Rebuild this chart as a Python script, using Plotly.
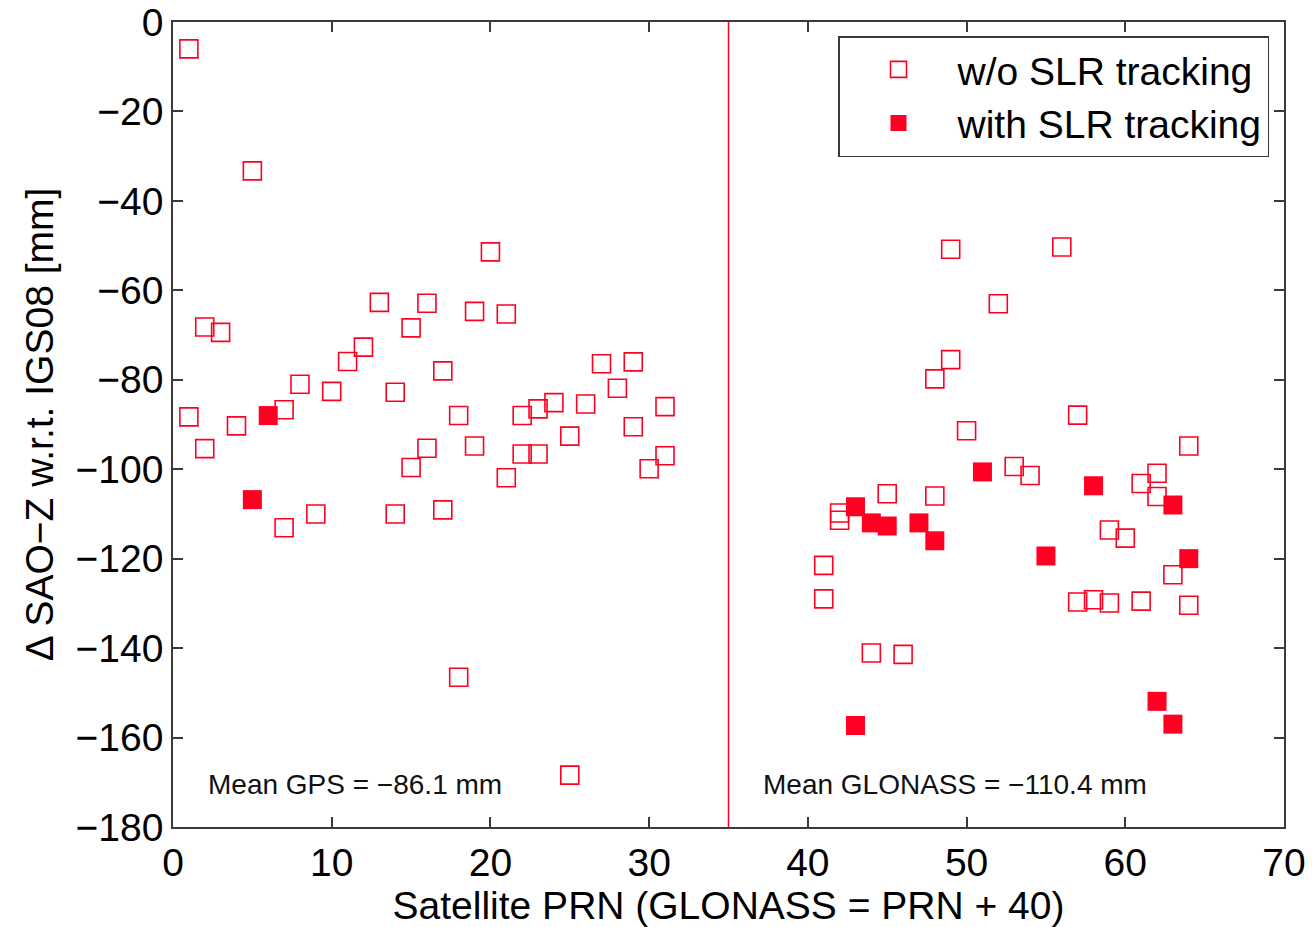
import plotly.graph_objects as go

# GPS satellites (x = PRN)
gps_open_prn = [1, 1, 2, 2, 3, 4, 5, 7, 7, 8, 9, 10, 11, 12, 13, 14, 14, 15, 15,
                16, 16, 17, 17, 18, 18, 19, 19, 20, 21, 21, 22, 22, 23, 23, 24,
                25, 25, 26, 27, 28, 29, 29, 30, 31, 31]
gps_open_dz = [-6.0, -88.3, -68.2, -95.4, -69.4, -90.3, -33.3, -86.7, -113.1,
               -81.0, -110.0, -82.6, -75.9, -72.7, -62.7, -82.8, -110.0, -68.4,
               -99.6, -62.9, -95.3, -78.0, -109.1, -88.0, -146.5, -64.7, -94.8,
               -51.4, -65.3, -101.9, -88.0, -96.6, -86.5, -96.6, -85.1, -92.6,
               -168.4, -85.4, -76.4, -81.9, -76.0, -90.5, -99.9, -86.0, -97.0]
gps_slr_prn = [5, 6]
gps_slr_dz = [-106.8, -88.0]

# GLONASS satellites (plotted at PRN + 40)
glo_offset = 40
glo_open_prn = [1, 1, 2, 2, 4, 5, 6, 8, 8, 9, 9, 10, 12, 13, 14, 16, 17, 17, 18,
                19, 19, 20, 21, 21, 22, 22, 23, 24, 24]
glo_open_dz = [-121.5, -129.0, -109.8, -111.4, -141.1, -105.5, -141.4, -79.8,
               -106.0, -50.8, -75.5, -91.4, -63.0, -99.4, -101.4, -50.3, -87.9,
               -129.7, -129.2, -113.6, -129.9, -115.4, -103.2, -129.5, -100.9,
               -106.1, -123.6, -94.8, -130.4]
glo_slr_prn = [3, 3, 4, 5, 7, 8, 11, 15, 18, 22, 23, 23, 24]
glo_slr_dz = [-108.4, -157.3, -112.0, -112.7, -112.0, -116.0, -100.6, -119.4,
              -103.7, -151.9, -108.0, -157.0, -120.0]

mean_gps = -86.1
mean_glo = -110.4
separator_x = 35

x_ticks = [0, 10, 20, 30, 40, 50, 60, 70]
y_ticks = [0, -20, -40, -60, -80, -100, -120, -140, -160, -180]

RED = "#ff0022"
AXIS = "#3a3a3a"
FONT = "Liberation Sans, Arial, sans-serif"
BIG = 39

open_x = gps_open_prn + [p + glo_offset for p in glo_open_prn]
open_y = gps_open_dz + glo_open_dz
slr_x = gps_slr_prn + [p + glo_offset for p in glo_slr_prn]
slr_y = gps_slr_dz + glo_slr_dz

fig = go.Figure()
fig.add_trace(go.Scatter(
    x=open_x, y=open_y, mode="markers", name="w/o SLR tracking",
    marker=dict(symbol="square-open", size=18, color=RED, line=dict(width=1.6, color=RED)),
))
fig.add_trace(go.Scatter(
    x=slr_x, y=slr_y, mode="markers", name="with SLR tracking",
    marker=dict(symbol="square", size=19, color=RED, line=dict(width=0)),
))

fig.add_shape(type="line", x0=separator_x, x1=separator_x, y0=0, y1=1,
              xref="x", yref="paper", line=dict(color=RED, width=1.5))

fig.add_annotation(x=2.1, y=-170.6, text=f"Mean GPS = \u2212{abs(mean_gps):.1f} mm",
                   showarrow=False, xanchor="left", yanchor="middle",
                   font=dict(size=28, color="#111", family=FONT))
fig.add_annotation(x=37.05, y=-170.6, text=f"Mean GLONASS = \u2212{abs(mean_glo):.1f} mm",
                   showarrow=False, xanchor="left", yanchor="middle",
                   font=dict(size=28, color="#111", family=FONT))

axis_common = dict(
    showgrid=False, zeroline=False, showline=True, linecolor=AXIS, linewidth=1.5,
    mirror="ticks", ticks="inside", ticklen=10, tickwidth=1.5, tickcolor=AXIS,
    tickfont=dict(size=BIG, color="#000", family=FONT), automargin=False,
)

fig.update_xaxes(
    range=[0, 70], tickvals=x_ticks, ticktext=[str(v) for v in x_ticks],
    title=dict(text="Satellite PRN (GLONASS = PRN + 40)",
               font=dict(size=BIG, color="#000", family=FONT), standoff=6),
    **axis_common,
)
fig.update_yaxes(
    range=[-180, 0], tickvals=y_ticks,
    ticktext=[("\u2212" + str(abs(v))) if v < 0 else str(v) for v in y_ticks],
    title=dict(text="\u0394 SAO\u2212Z w.r.t. IGS08 [mm]",
               font=dict(size=BIG, color="#000", family=FONT), standoff=10),
    **axis_common,
)

fig.update_layout(
    width=1312, height=927,
    margin=dict(l=173, r=28, t=22, b=100, autoexpand=False),
    paper_bgcolor="white", plot_bgcolor="white",
    font=dict(family=FONT, color="#000"),
    showlegend=True,
    legend=dict(
        x=0.9865, y=0.9826, xanchor="right", yanchor="top",
        bgcolor="white", bordercolor=AXIS, borderwidth=1.5,
        font=dict(size=BIG, color="#000", family=FONT),
        itemwidth=108, tracegroupgap=0,
    ),
)

fig.write_html("out.html")
